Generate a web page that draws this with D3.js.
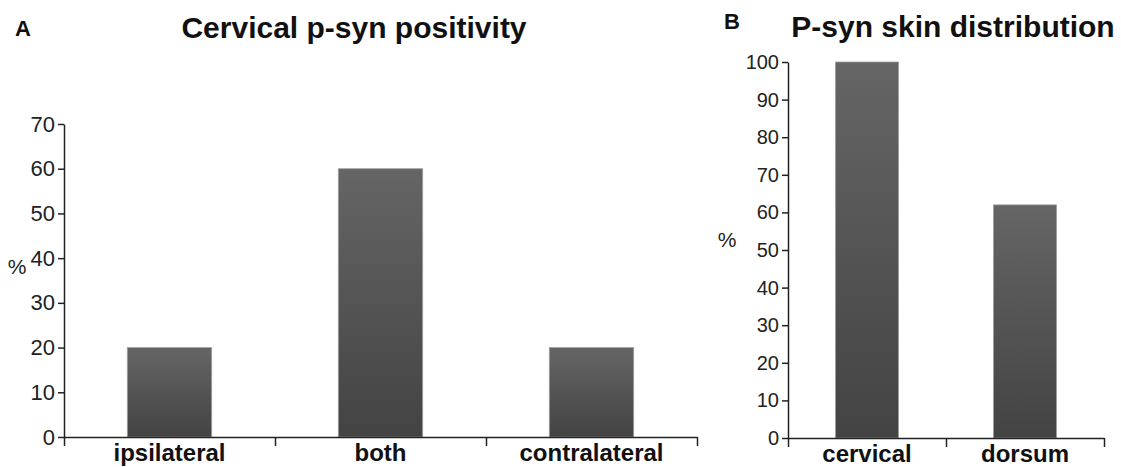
<!DOCTYPE html>
<html lang="en">
<head>
  <meta charset="UTF-8"/>
  <title>p-syn charts</title>
  <script src="https://d3js.org/d3.v7.min.js"></script>
  <style>
    body { margin: 0; background: #fff; }
    svg text { font-family: Arial, "Liberation Sans", sans-serif; }
  </style>
</head>
<body>
<svg id="chart" width="1121" height="467"></svg>
<script>
// panel A data
var catsA = ["ipsilateral", "both", "contralateral"];
var valsA = [20, 60, 20];
var ticksA = [0, 10, 20, 30, 40, 50, 60, 70];

// panel B data
var catsB = ["cervical", "dorsum"];
var valsB = [100, 62];
var ticksB = [0, 10, 20, 30, 40, 50, 60, 70, 80, 90, 100];

var svg = d3.select("#chart");

// bar gradient
var grad = svg.append("defs").append("linearGradient")
    .attr("id", "barGrad").attr("x1", 0).attr("y1", 0).attr("x2", 0).attr("y2", 1);
grad.append("stop").attr("offset", "0%").attr("stop-color", "#656565");
grad.append("stop").attr("offset", "100%").attr("stop-color", "#434343");

function panel(opt) {
    var g = svg.append("g");
    var x = d3.scaleBand().domain(opt.cats).range([opt.x0, opt.x1])
        .paddingInner(0.6).paddingOuter(0.3);
    var y = d3.scaleLinear().domain([0, opt.max]).range([opt.y0, opt.y1]);

    // bars
    g.selectAll("rect.bar")
        .data(opt.vals)
        .enter().append("rect")
        .attr("class", "bar")
        .attr("x", function(d, i){ return x(opt.cats[i]); })
        .attr("width", x.bandwidth())
        .attr("y", function(d){ return y(d); })
        .attr("height", function(d){ return y(0) - y(d); })
        .attr("fill", "url(#barGrad)")
        .attr("stroke", "#a0a0a0")
        .attr("stroke-width", 0.8);

    // y axis
    var ya = g.append("g")
        .attr("transform", "translate(" + opt.x0 + ",0)")
        .attr("font-size", opt.tickFont)
        .call(d3.axisLeft(y).tickValues(opt.ticks).tickSize(6).tickSizeOuter(0).tickPadding(3));
    ya.attr("font-size", opt.tickFont);
    ya.selectAll("text").attr("fill", "#222");
    ya.selectAll("line, path").attr("stroke", "#222").attr("stroke-width", 1.5);

    // x axis boundary ticks
    var n = opt.cats.length;
    var xl = d3.scaleLinear().domain([0, n]).range([opt.x0, opt.x1]);
    var xa = g.append("g")
        .attr("transform", "translate(0," + opt.y0 + ")")
        .call(d3.axisBottom(xl).tickValues(d3.range(0, n + 1)).tickSize(9).tickSizeOuter(0).tickFormat(""));
    xa.selectAll("line, path").attr("stroke", "#222").attr("stroke-width", 1.5);

    // category labels
    var xc = g.append("g")
        .attr("transform", "translate(0," + opt.y0 + ")")
        .call(d3.axisBottom(x).tickSize(0).tickPadding(7));
    xc.select(".domain").remove();
    xc.attr("font-size", 24).attr("font-weight", "bold");
    xc.selectAll("text").attr("fill", "#111");

    // % label
    g.append("text")
        .attr("x", opt.pctX).attr("y", opt.pctY)
        .attr("text-anchor", "middle")
        .attr("font-size", 21).attr("fill", "#222")
        .text("%");

    // title
    g.append("text")
        .attr("x", opt.titleX).attr("y", opt.titleY)
        .attr("text-anchor", "middle")
        .attr("font-size", 30).attr("font-weight", "bold").attr("fill", "#111")
        .text(opt.title);

    // panel letter
    g.append("text")
        .attr("x", opt.letterX).attr("y", opt.letterY)
        .attr("font-size", 22).attr("font-weight", "bold").attr("fill", "#111")
        .text(opt.letter);
}

panel({
    cats: catsA, vals: valsA, ticks: ticksA, max: 70,
    x0: 64, x1: 697, y0: 437, y1: 124, tickFont: 22,
    pctX: 17, pctY: 274,
    title: "Cervical p-syn positivity", titleX: 354, titleY: 38,
    letter: "A", letterX: 15, letterY: 36
});

panel({
    cats: catsB, vals: valsB, ticks: ticksB, max: 100,
    x0: 788, x1: 1104, y0: 438, y1: 62, tickFont: 20,
    pctX: 727, pctY: 247,
    title: "P-syn skin distribution", titleX: 953, titleY: 37,
    letter: "B", letterX: 724, letterY: 29
});
</script>
</body>
</html>
